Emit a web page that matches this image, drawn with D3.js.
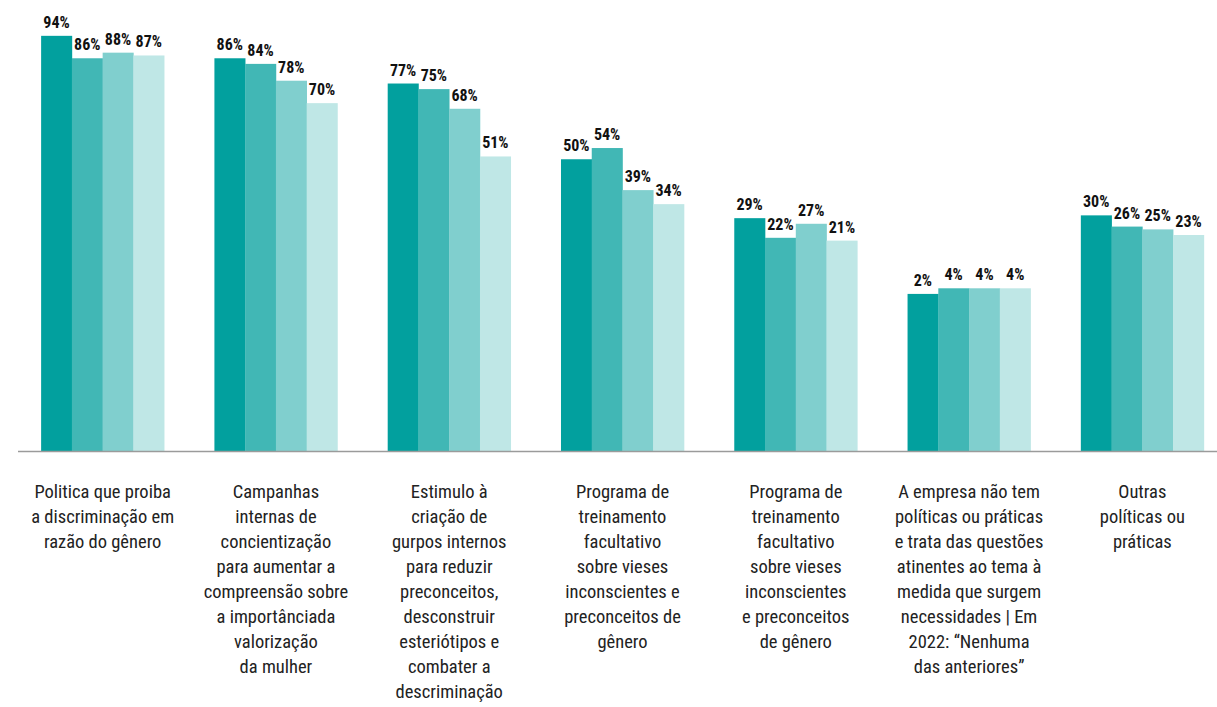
<!DOCTYPE html>
<html>
<head>
<meta charset="utf-8">
<style>
body { margin: 0; background: #fff; }
text { font-family: "Liberation Sans Narrow", "Roboto Condensed", "DejaVu Sans Condensed", sans-serif; }
</style>
</head>
<body>
<svg id="chart" width="1217" height="707"></svg>
<script src="https://d3js.org/d3.v7.min.js"></script>
<script>

// categories, each split in the lines it is printed with
const categories = [
    ["Politica que proiba", "a discriminação em", "razão do gênero"],
    ["Campanhas", "internas de", "concientização", "para aumentar a", "compreensão sobre", "a importânciada", "valorização", "da mulher"],
    ["Estimulo à", "criação de", "gurpos internos", "para reduzir", "preconceitos,", "desconstruir", "esteriótipos e", "combater a", "descriminação"],
    ["Programa de", "treinamento", "facultativo", "sobre vieses", "inconscientes e", "preconceitos de", "gênero"],
    ["Programa de", "treinamento", "facultativo", "sobre vieses", "inconscientes", "e preconceitos", "de gênero"],
    ["A empresa não tem", "políticas ou práticas", "e trata das questões", "atinentes ao tema à", "medida que surgem", "necessidades | Em", "2022: “Nenhuma", "das anteriores”"],
    ["Outras", "políticas ou", "práticas"]
];

const series = ["s1", "s2", "s3", "s4"];
const s1 = [94, 86, 77, 50, 29, 2, 30];
const s2 = [86, 84, 75, 54, 22, 4, 26];
const s3 = [88, 78, 68, 39, 27, 4, 25];
const s4 = [87, 70, 51, 34, 21, 4, 23];
const colors = ["#02a09e", "#41b7b5", "#80cfce", "#bfe7e6"];

const values = [s1, s2, s3, s4];
let data = [];
categories.forEach(function(c, i) {
    series.forEach(function(s, j) {
        data.push({ cat: i, ser: s, v: values[j][i], color: colors[j] });
    });
});

const svg = d3.select("#chart");
const baseY = 451;

let x0 = d3.scaleBand()
    .domain(d3.range(categories.length))
    .range([16, 1229])
    .paddingInner(0.29)
    .paddingOuter(0.145);

let x1 = d3.scaleBand()
    .domain(series)
    .range([0, x0.bandwidth()]);

// the original scale does not start at zero
let y = d3.scaleLinear()
    .domain([-54, 100])
    .range([baseY, 19]);

svg.append("g").selectAll("rect").data(data).join("rect")
    .attr("x", function(d) { return x0(d.cat) + x1(d.ser); })
    .attr("y", function(d) { return y(d.v); })
    .attr("width", x1.bandwidth() + 0.3)
    .attr("height", function(d) { return baseY - y(d.v); })
    .attr("fill", function(d) { return d.color; });

svg.append("g").selectAll("text").data(data).join("text")
    .attr("x", function(d) { return x0(d.cat) + x1(d.ser) + x1.bandwidth() / 2; })
    .attr("y", function(d) { return y(d.v) - 8; })
    .attr("text-anchor", "middle")
    .style("font-size", "16px")
    .style("font-weight", "bold")
    .style("fill", "#111")
    .text(function(d) { return d.v + "%"; });

svg.append("line")
    .attr("x1", 18).attr("x2", 1217)
    .attr("y1", baseY + 0.5).attr("y2", baseY + 0.5)
    .attr("stroke", "#9b9b9b")
    .attr("stroke-width", 1.5);

let labels = svg.append("g").selectAll("text").data(categories).join("text")
    .attr("text-anchor", "middle")
    .style("font-size", "18.5px")
    .style("fill", "#222");

labels.selectAll("tspan").data(function(d, i) { return d.map(function(t) { return { t: t, c: i }; }); }).join("tspan")
    .attr("x", function(d) { return x0(d.c) + x0.bandwidth() / 2; })
    .attr("y", function(d, k) { return 498 + k * 25; })
    .text(function(d) { return d.t; });

</script>
</body>
</html>
